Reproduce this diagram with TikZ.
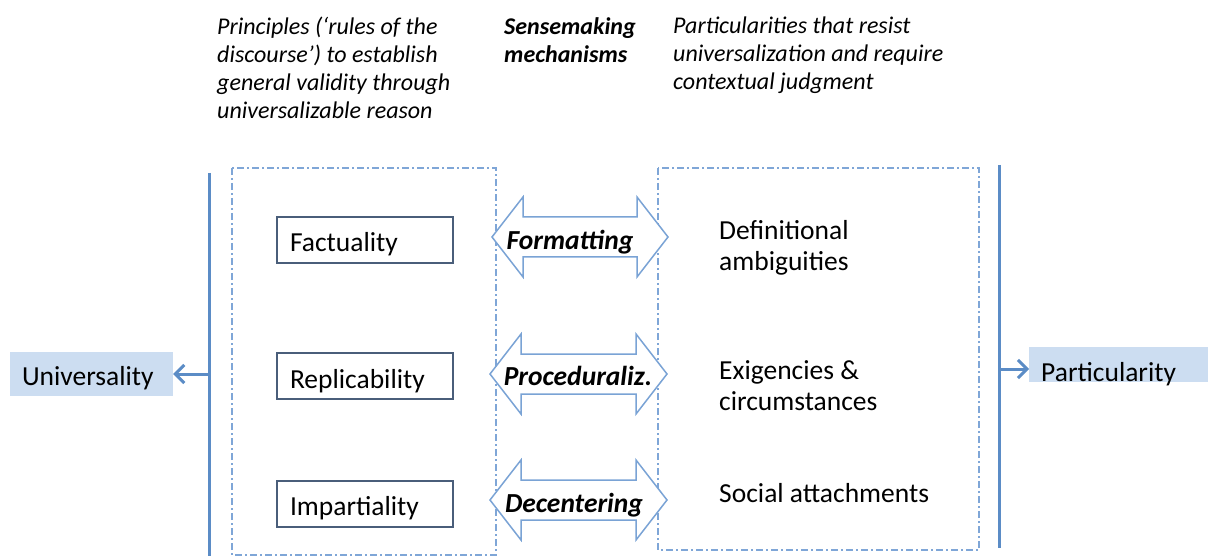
\documentclass[tikz,border=0pt]{standalone}
\usepackage{fontspec}
\setmainfont{Carlito}
\usetikzlibrary{arrows.meta}
\definecolor{lineblue}{HTML}{5B8CC6}
\definecolor{fillblue}{HTML}{CCDDF1}
\definecolor{dashblue}{HTML}{7FA6D7}
\definecolor{arrowblue}{HTML}{7AA3D5}
\definecolor{boxborder}{HTML}{4A5E7A}
\tikzset{
  bodyfont/.style={font=\fontsize{27.5}{31}\selectfont},
  headfont/.style={font=\itshape\fontsize{24}{28}\selectfont},
  catbox/.style={fill=fillblue, draw=none, bodyfont, inner sep=0pt, text depth=0pt},
  princbox/.style={draw=boxborder, line width=2pt, minimum width=176pt, minimum height=46pt,
    text width=150pt, inner xsep=13pt, inner ysep=0pt, align=left, bodyfont,
    text height=24pt, text depth=0pt},
  dashbox/.style={draw=dashblue, line width=1.3pt, dash pattern=on 7pt off 3pt on 2pt off 3pt},
  axis/.style={draw=lineblue, line width=3pt},
  axarrow/.style={draw=lineblue, line width=3pt, -{Straight Barb[length=9pt,width=18pt,line width=3pt]}},
  blockarrow/.style={draw=arrowblue, line width=1.5pt, fill=white, line join=miter},
  mechfont/.style={font=\bfseries\itshape\fontsize{27.5}{30}\selectfont, inner sep=0pt},
  parttext/.style={bodyfont, align=left, anchor=west, inner sep=0pt},
}
\newcommand{\blockarr}[5]{% name, xl, xr, yc, headlen
  \path[blockarrow] (#2,#4) -- (#2+#5,#4-40) -- (#2+#5,#4-20) -- (#3-#5,#4-20) -- (#3-#5,#4-40)
    -- (#3,#4) -- (#3-#5,#4+40) -- (#3-#5,#4+20) -- (#2+#5,#4+20) -- (#2+#5,#4+40) -- cycle;
  \coordinate (#1) at ({(#2+#3)/2},#4);
}
\begin{document}
\begin{tikzpicture}[x=1pt,y=-1pt]
\useasboundingbox (0,0) rectangle (1208,556);

% header texts
\node[headfont, anchor=north west, inner sep=0pt, align=left] (hl) at (217,17)
  {Principles (‘rules of the\\discourse’) to establish\\general validity through\\universalizable reason};
\node[font=\bfseries\itshape\fontsize{24}{28}\selectfont, anchor=north west, inner sep=0pt, align=left] (hm) at (504,17)
  {Sensemaking\\mechanisms};
\node[headfont, anchor=north west, inner sep=0pt, align=left] (hr) at (673,17)
  {Particularities that resist\\universalization and require\\contextual judgment};

% dash-dot boxes
\draw[dashbox] (232,168) rectangle (496,555);
\draw[dashbox] (658,168) rectangle (979,550);

% axes
\coordinate (lt) at (209,173);
\coordinate (lb) at (209,556);
\draw[axis] (lt) -- (lb);
\coordinate (rt) at (999,165);
\coordinate (rb) at (999,548);
\draw[axis] (rt) -- (rb);

% category boxes
\node[catbox, minimum width=163pt, minimum height=44pt, text width=139pt, inner xsep=12pt, align=left, text height=22pt] (univ) at (91.5,374) {Universality};
\node[catbox, minimum width=179pt, minimum height=35pt, anchor=west, text width=155pt, inner xsep=12pt, align=left, text height=33pt] (part) at (1029,364.5) {Particularity};
\coordinate (la) at (209,374);
\coordinate (ra) at (999,369);
\draw[axarrow] (la) -- (la -| univ.east);
\draw[axarrow] (ra) -- (ra -| part.west);

% principle boxes
\node[princbox] (fact) at (365,240) {Factuality};
\node[princbox] (repl) at (365,376) {Replicability};
\node[princbox] (impa) at (365,503.5) {Impartiality};

% block arrows
\blockarr{fm}{492}{668}{237}{31}
\blockarr{pm}{490}{667}{374}{31}
\blockarr{dm}{490}{667}{500}{31}
\node[mechfont, anchor=base] (fmt) at (570,250) {Formatting};
\node[mechfont, anchor=base] (pmt) at (578,385) {Proceduraliz.};
\node[mechfont, anchor=base] (dmt) at (574,512) {Decentering};

% particularities
\node[parttext] (defa) at (719,248) {Definitional\\ambiguities};
\node[parttext] (exig) at (719,386) {Exigencies \&\\circumstances};
\node[parttext] (soci) at (719,493) {Social attachments};
\end{tikzpicture}
\end{document}
